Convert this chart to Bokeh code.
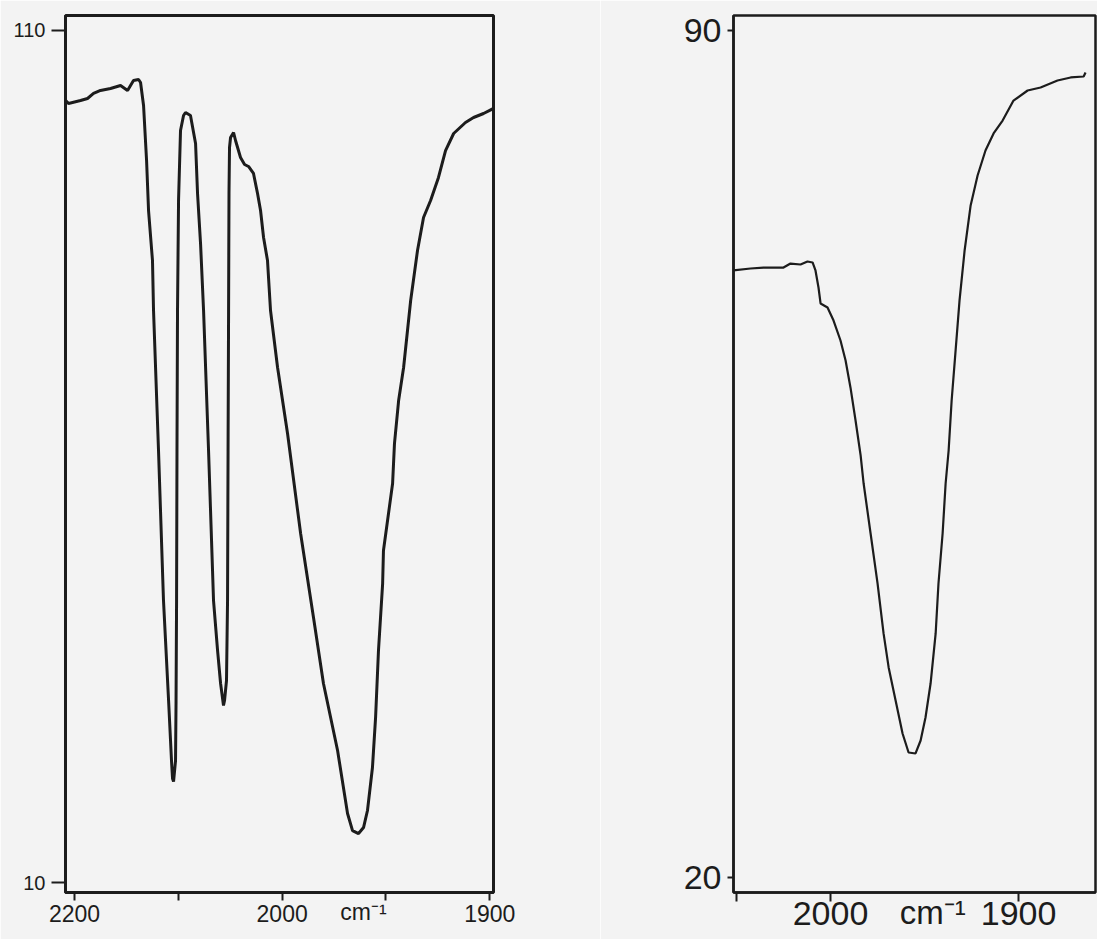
from bokeh.plotting import figure
from bokeh.layouts import row
from bokeh.models import FixedTicker, Range1d, LinearAxis
from bokeh.embed import file_html
from bokeh.resources import INLINE

# ---------------- data (wavenumber cm-1, transmittance %) ----------------
wn_left = [2208.5, 2205.8, 2194.2, 2187.5, 2181.7, 2175.0, 2165.3, 2155.7, 2148.9, 2143.2,
           2138.3, 2136.4, 2133.5, 2130.6, 2128.7, 2124.9, 2123.9, 2119.1, 2114.3, 2109.4,
           2106.6, 2105.6, 2104.6, 2102.7, 2102.2, 2101.7, 2101.3, 2100.8, 2099.8, 2097.9,
           2095.0, 2093.1, 2088.3, 2083.4, 2081.5, 2078.6, 2075.7, 2070.9, 2066.1, 2062.2,
           2059.3, 2056.5, 2055.5, 2053.6, 2052.6, 2052.1, 2051.6, 2051.2, 2050.7, 2049.7,
           2046.8, 2044.9, 2040.1, 2036.2, 2032.4, 2027.6, 2023.7, 2020.8, 2017.9, 2014.1,
           2011.2, 2004.4, 1997.4, 1991.1, 1984.9, 1980.1, 1973.3, 1968.5, 1966.1, 1963.2,
           1960.8, 1958.9, 1956.5, 1955.0, 1953.6, 1951.6, 1951.2, 1946.8, 1945.9, 1943.9,
           1941.5, 1938.1, 1934.8, 1931.9, 1928.5, 1924.7, 1921.3, 1917.4, 1911.7, 1907.8,
           1903.0, 1898.2]
t_left = [101.78, 101.43, 101.78, 102.02, 102.61, 102.96, 103.19, 103.54, 102.96, 104.13,
          104.25, 103.90, 101.20, 94.74, 88.87, 82.99, 77.14, 60.70, 43.10, 31.36,
          24.32, 22.21, 21.85, 24.32, 31.36, 43.10, 60.70, 77.14, 90.05, 98.26,
          100.02, 100.37, 100.02, 96.74, 90.87, 84.99, 77.14, 60.70, 43.10, 37.23,
          33.36, 30.77, 31.36, 33.71, 43.10, 60.70, 77.14, 90.87, 96.27, 97.44,
          98.03, 97.09, 95.09, 94.27, 94.04, 93.22, 90.87, 88.87, 85.70, 83.00,
          77.14, 70.45, 62.70, 50.96, 41.10, 33.36, 25.49, 18.10, 16.10, 15.75,
          16.45, 18.45, 23.50, 29.36, 37.23, 45.09, 48.97, 56.83, 61.52, 66.57,
          70.45, 78.31, 84.18, 88.05, 90.05, 92.75, 95.91, 97.91, 99.20, 99.79,
          100.26, 100.85]

wn_right = [2103.2, 2085.1, 2071.3, 2050.0, 2042.6, 2031.9, 2024.5, 2019.1, 2016.0, 2012.8,
            2010.6, 2003.2, 1998.4, 1994.7, 1992.0, 1989.4, 1986.7, 1984.0, 1982.4, 1978.7,
            1975.0, 1971.8, 1969.1, 1965.4, 1961.7, 1958.5, 1954.8, 1952.1, 1949.5, 1946.8,
            1944.1, 1942.6, 1940.4, 1938.8, 1937.2, 1935.6, 1933.5, 1931.4, 1928.7, 1925.5,
            1921.8, 1917.6, 1913.3, 1908.5, 1902.7, 1895.2, 1888.3, 1879.3, 1872.3, 1865.4,
            1864.4]
t_right = [70.17, 70.33, 70.41, 70.41, 70.74, 70.66, 70.91, 70.83, 70.17, 68.76,
           67.44, 67.11, 66.03, 64.38, 62.73, 60.50, 57.77, 54.88, 52.56, 48.43,
           44.30, 40.17, 37.36, 34.63, 31.90, 30.33, 30.25, 31.32, 33.22, 36.03,
           40.17, 44.30, 48.43, 52.56, 55.29, 59.42, 63.55, 67.69, 71.82, 75.54,
           78.02, 80.08, 81.49, 82.56, 84.21, 85.04, 85.29, 85.87, 86.12, 86.20,
           86.53]

left_xticks = [2200, 2100, 2000, 1950, 1900]
left_xlabels = ["2200", "", "2000", "", "1900"]
left_yticks = [10, 110]
right_xticks = [2100, 2000, 1900]
right_xlabels = ["", "2000", "1900"]
right_yticks = [20, 90]
unit_text = "cm\u207b\u00b9"
left_unit_at = 1960.8     # wavenumber under which the unit is written
right_unit_at = 1945.7


def chart_x(w):
    """Spectrometer abscissa: the scale is expanded 2x below 2000 cm-1."""
    return (2200.0 - w) if w >= 2000 else 200.0 + 2.0 * (2000.0 - w)


FONT = "Liberation Sans"
INK = "#1c1c1c"
PAPER = "#f3f3f3"


def make_fig(xlim, ylim, fw, bl, br, lw):
    p = figure(frame_width=fw, frame_height=877, output_backend="svg", toolbar_location=None,
               x_range=Range1d(chart_x(xlim[0]), chart_x(xlim[1])),
               y_range=Range1d(ylim[0], ylim[1]),
               min_border_left=bl, min_border_right=br, min_border_top=15, min_border_bottom=47)
    p.background_fill_color = PAPER
    p.border_fill_color = PAPER
    p.outline_line_color = INK
    p.outline_line_width = lw
    p.xgrid.visible = False
    p.ygrid.visible = False
    for ax in (p.xaxis[0], p.yaxis[0]):
        ax.axis_line_color = INK
        ax.axis_line_width = lw
        ax.major_tick_line_color = INK
        ax.major_tick_line_width = 2
        ax.minor_tick_line_color = None
        ax.major_tick_in = 0
        ax.major_label_text_font = FONT
        ax.major_label_text_color = INK
    return p


def x_axes(p, ticks, labels, unit_at, tick_out, standoff, size, unit_size, unit_lift):
    ax = p.xaxis[0]
    pos = [chart_x(t) for t in ticks]
    ax.ticker = FixedTicker(ticks=pos)
    ax.major_label_overrides = {k: v for k, v in zip(pos, labels)}
    ax.major_tick_out = tick_out
    ax.major_label_standoff = standoff
    ax.major_label_text_font_size = size
    # unit written in the tick-label row (second axis pulled up with a negative standoff)
    u = chart_x(unit_at)
    unit_ax = LinearAxis(ticker=FixedTicker(ticks=[u]), major_label_overrides={u: unit_text},
                         axis_line_color=None, major_tick_line_color=None,
                         minor_tick_line_color=None, major_tick_in=0, major_tick_out=0,
                         major_label_standoff=-unit_lift, major_label_text_font=FONT,
                         major_label_text_font_size=unit_size, major_label_text_color=INK)
    p.add_layout(unit_ax, "below")


# ---------------- left panel ----------------
p1 = make_fig((2208.7, 1898.2), (8.83, 111.76), 428, 65, 107, 3)
p1.line([chart_x(w) for w in wn_left], t_left, line_color=INK, line_width=3)
x_axes(p1, left_xticks, left_xlabels, left_unit_at, 8, 4, "23px", "23px", 26)
p1.yaxis[0].ticker = FixedTicker(ticks=left_yticks)
p1.yaxis[0].major_tick_out = 14
p1.yaxis[0].major_label_standoff = 6
p1.yaxis[0].major_label_text_font_size = "20px"

# ---------------- right panel ----------------
p2 = make_fig((2103.2, 1859.1), (18.76, 91.24), 362, 133, 2, 2.5)
p2.line([chart_x(w) for w in wn_right], t_right, line_color=INK, line_width=2.2)
x_axes(p2, right_xticks, right_xlabels, right_unit_at, 9, 0, "34px", "33px", 34)
p2.yaxis[0].ticker = FixedTicker(ticks=right_yticks)
p2.yaxis[0].major_tick_out = 6
p2.yaxis[0].major_label_standoff = 6
p2.yaxis[0].major_label_text_font_size = "34px"

layout = row(p1, p2)
open("out.html", "w").write(file_html(layout, INLINE))
